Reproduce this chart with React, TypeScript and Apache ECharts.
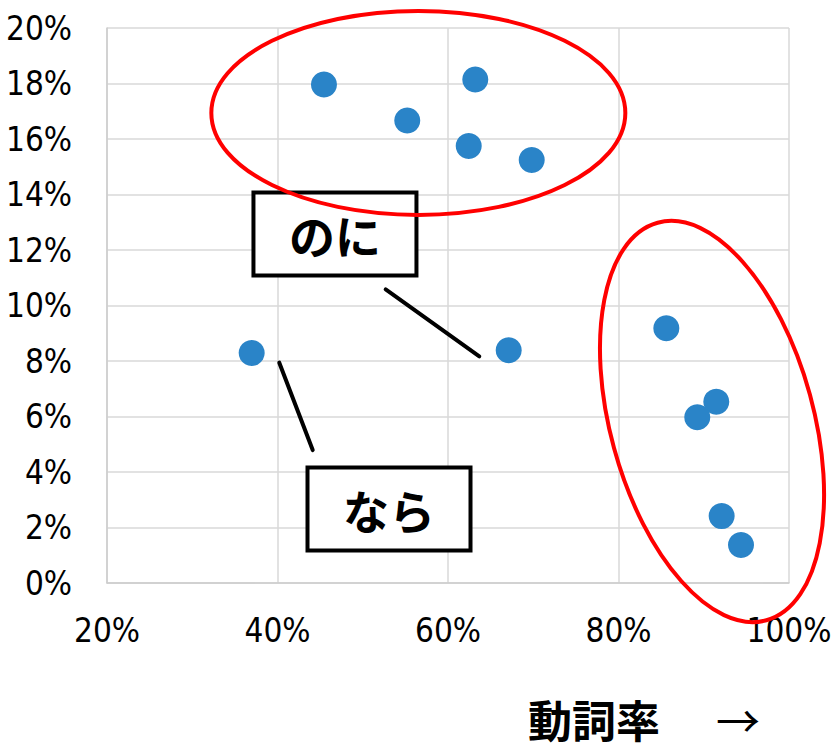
import React, { useEffect, useRef } from 'react';
import * as echarts from 'echarts';

// Verb rate (x, %) and share (y, %) for each expression
const verbRate = [45.45, 55.22, 63.2, 62.43, 69.82, 36.97, 67.12, 85.61, 91.47, 89.24, 92.1, 94.37];
const share = [17.96, 16.67, 18.14, 15.75, 15.24, 8.29, 8.39, 9.18, 6.53, 5.97, 2.41, 1.37];

// Axis ranges and tick steps
const xRange = [20, 100];
const xStep = 20;
const yRange = [0, 20];
const yStep = 2;

// Annotation anchors in data units
const upperCluster = [56.52, 16.94];
const rightCluster = [90.97, 5.82];
const noniBox = [46.74, 12.58];
const naraBox = [53.08, 2.67];
const noniLeader = [[52.69, 10.58], [63.67, 8.17]];
const naraLeader = [[40.21, 7.94], [44.13, 4.79]];

const tickFont = '"Liberation Sans Narrow", "DejaVu Sans Condensed", "Liberation Sans", sans-serif';
const cjkFont = '"Noto Sans CJK JP", "Noto Sans CJK SC", sans-serif';

export default function App() {
  const ref = useRef<HTMLDivElement>(null);

  useEffect(() => {
    document.body.style.margin = '0';
    const chart = echarts.init(ref.current!, null, { renderer: 'svg' });
    chart.setOption({
      animation: false,
      backgroundColor: '#ffffff',
      grid: { left: 107, right: 48, top: 28, bottom: 167 },
      xAxis: {
        type: 'value',
        min: xRange[0],
        max: xRange[1],
        interval: xStep,
        axisLine: { show: true, lineStyle: { color: '#cccccc', width: 1.5 } },
        axisTick: { show: false },
        axisLabel: { formatter: '{value}%', fontFamily: tickFont, fontSize: 33, color: '#000', margin: 31 },
        splitLine: { show: true, lineStyle: { color: '#d9d9d9', width: 1.5 } },
      },
      yAxis: {
        type: 'value',
        min: yRange[0],
        max: yRange[1],
        interval: yStep,
        axisLine: { show: true, lineStyle: { color: '#cccccc', width: 1.5 } },
        axisTick: { show: false },
        axisLabel: { formatter: '{value}%', fontFamily: tickFont, fontSize: 33, color: '#000', margin: 35 },
        splitLine: { show: true, lineStyle: { color: '#d9d9d9', width: 1.5 } },
      },
      series: [
        {
          type: 'scatter',
          data: verbRate.map((x, i) => [x, share[i]]),
          symbolSize: 26,
          itemStyle: { color: '#2a84c8', opacity: 1 },
          silent: true,
        },
      ],
    });

    const px = (p: number[]) => chart.convertToPixel({ gridIndex: 0 }, p) as number[];
    const u = px(upperCluster);
    const r = px(rightCluster);
    const nb = px(noniBox);
    const rb = px(naraBox);
    const nl0 = px(noniLeader[0]);
    const nl1 = px(noniLeader[1]);
    const rl0 = px(naraLeader[0]);
    const rl1 = px(naraLeader[1]);

    const box = (c: number[], label: string) => ({
      type: 'group',
      x: c[0],
      y: c[1],
      z: 10,
      children: [
        {
          type: 'rect',
          shape: { x: -81.5, y: -41.5, width: 163, height: 83 },
          style: { fill: '#ffffff', stroke: '#000000', lineWidth: 4 },
        },
        {
          type: 'text',
          x: 0,
          y: 0,
          style: {
            text: label,
            fontFamily: cjkFont,
            fontWeight: 'bold',
            fontSize: 46,
            fill: '#000',
            align: 'center',
            verticalAlign: 'middle',
          },
        },
      ],
    });

    chart.setOption({
      graphic: [
        box(nb, 'のに'),
        box(rb, 'なら'),
        {
          type: 'ellipse',
          x: u[0],
          y: u[1],
          z: 20,
          shape: { cx: 0, cy: 0, rx: 207, ry: 102 },
          style: { fill: 'none', stroke: '#ff0000', lineWidth: 4 },
        },
        {
          type: 'ellipse',
          x: r[0],
          y: r[1],
          rotation: (15.3 * Math.PI) / 180,
          z: 20,
          shape: { cx: 0, cy: 0, rx: 101.5, ry: 206 },
          style: { fill: 'none', stroke: '#ff0000', lineWidth: 4 },
        },
        {
          type: 'line',
          z: 15,
          shape: { x1: nl0[0], y1: nl0[1], x2: nl1[0], y2: nl1[1] },
          style: { stroke: '#000', lineWidth: 4, lineCap: 'round' },
        },
        {
          type: 'line',
          z: 15,
          shape: { x1: rl0[0], y1: rl0[1], x2: rl1[0], y2: rl1[1] },
          style: { stroke: '#000', lineWidth: 4, lineCap: 'round' },
        },
        {
          type: 'text',
          x: 594,
          y: 719,
          style: {
            text: '動詞率',
            fontFamily: cjkFont,
            fontWeight: 'bold',
            fontSize: 44,
            lineHeight: 44,
            fill: '#000',
            align: 'center',
            verticalAlign: 'middle',
          },
        },
        {
          type: 'text',
          x: 738,
          y: 719,
          style: {
            text: '→',
            fontFamily: cjkFont,
            fontWeight: 'normal',
            fontSize: 44,
            lineHeight: 44,
            fill: '#000',
            align: 'center',
            verticalAlign: 'middle',
          },
        },
      ],
    });

    return () => chart.dispose();
  }, []);

  return <div ref={ref} style={{ width: 837, height: 750 }} />;
}
